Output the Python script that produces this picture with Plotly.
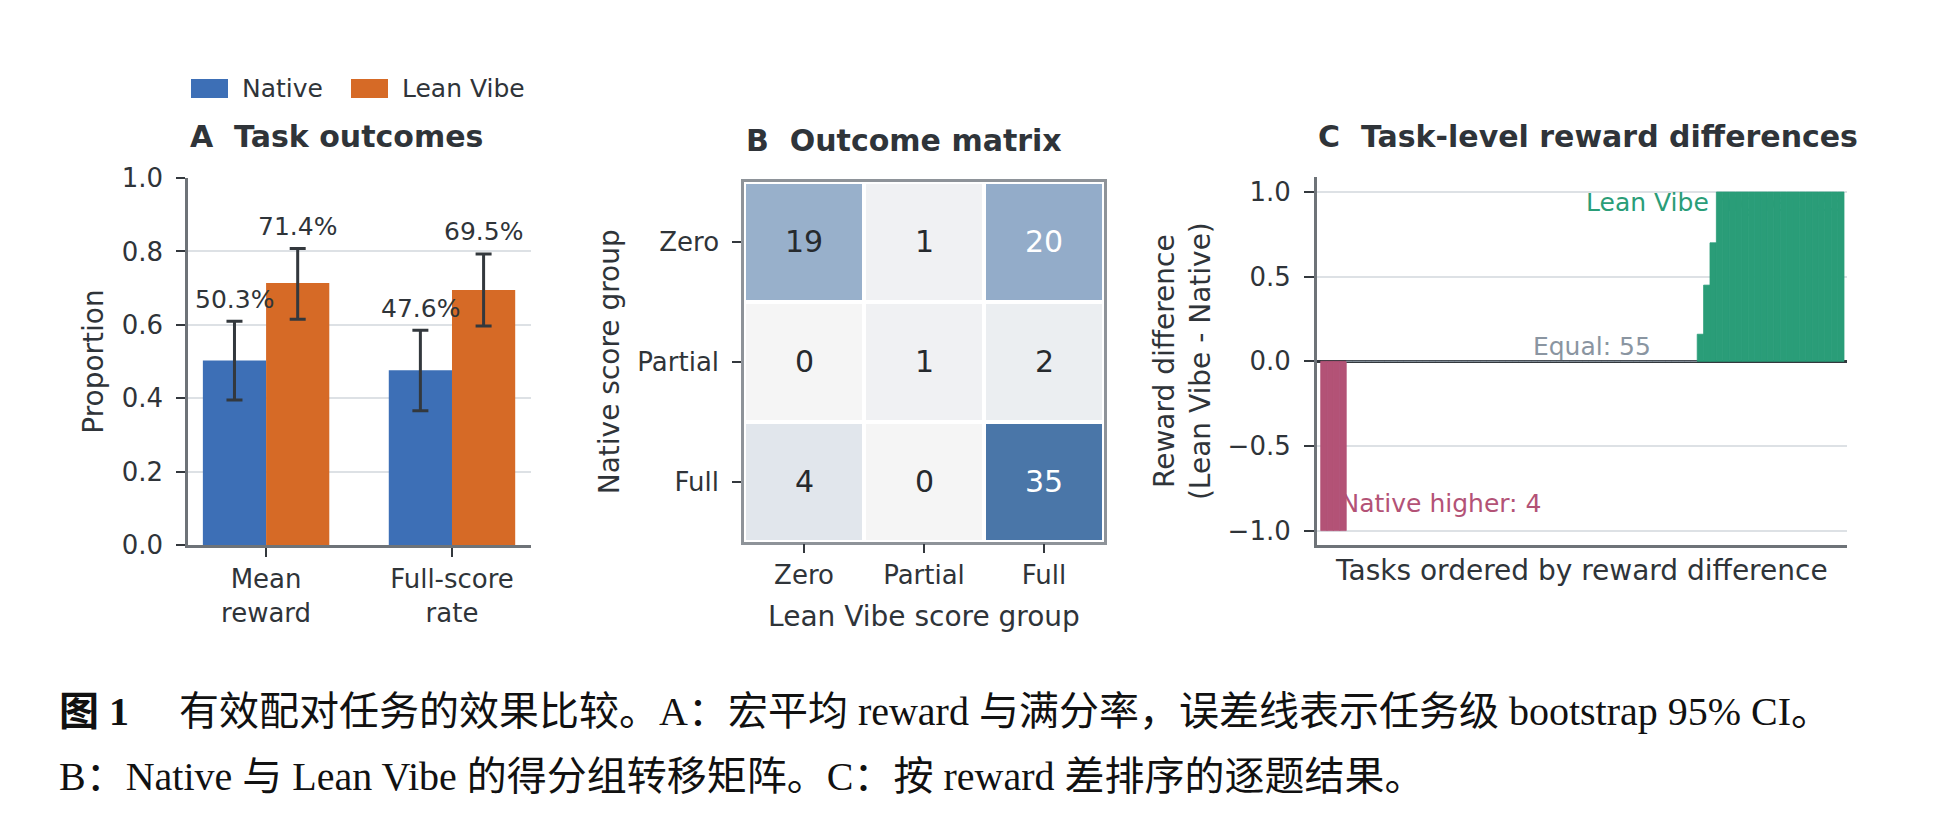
import plotly.graph_objects as go

W, H = 1938, 825
# the page body keeps an 8 px margin, so the figure is drawn 8 px in from the window edge
OX, OY = 8, 8
FW, FH = W - 2 * OX, H - 2 * OY

# ---------------- data ----------------
# Panel A: task outcomes
metrics = ["Mean<br>reward", "Full-score<br>rate"]
native_mean = [0.503, 0.476]
native_ci_low = [0.395, 0.366]
native_ci_high = [0.610, 0.585]
lean_mean = [0.714, 0.695]
lean_ci_low = [0.615, 0.597]
lean_ci_high = [0.808, 0.793]

# Panel B: outcome matrix (rows: Native group, cols: Lean Vibe group)
score_groups = ["Zero", "Partial", "Full"]
outcome_counts = [
    [19, 1, 20],
    [0, 1, 2],
    [4, 0, 35],
]

# Panel C: per-task reward differences (Lean Vibe - Native), sorted
native_higher_diffs = [-1.0, -1.0, -1.0, -1.0]
equal_diffs = [0.0] * 55
lean_higher_diffs = [0.16, 0.45, 0.70,
                     1.0, 1.0, 1.0, 1.0, 1.0, 1.0, 1.0, 1.0, 1.0, 1.0,
                     1.0, 1.0, 1.0, 1.0, 1.0, 1.0, 1.0, 1.0, 1.0, 1.0]
reward_diffs = native_higher_diffs + equal_diffs + lean_higher_diffs
task_index = list(range(len(reward_diffs)))

caption_line1_head = "<b>图 1</b>"
caption_line1 = "有效配对任务的效果比较。A：宏平均 reward 与满分率，误差线表示任务级 bootstrap 95% CI。"
caption_line2 = "B：Native 与 Lean Vibe 的得分组转移矩阵。C：按 reward 差排序的逐题结果。"

# ---------------- style ----------------
FONT = "DejaVu Sans"
TXT = "#2F3439"
TICKC = "#33383D"
SPINE = "#6E7378"
GRID = "#DDE1E5"
NATIVE_C = "#3D6FB6"
LEAN_C = "#D66A26"
GREEN = "#2A9D78"
PINK = "#B35276"
EQUAL_C = "#8A95A1"


def px(x):
    return (x - OX) / FW


def py(y):
    return 1 - (y - OY) / FH


fig = go.Figure()

# ---- Panel A ----
fig.add_trace(go.Bar(
    x=metrics, y=native_mean, name="Native", marker=dict(color=NATIVE_C, line=dict(width=0)),
    width=0.34, offset=-0.34, xaxis="x", yaxis="y", showlegend=False,
    error_y=dict(type="data", symmetric=False,
                 array=[h - m for h, m in zip(native_ci_high, native_mean)],
                 arrayminus=[m - l for m, l in zip(native_mean, native_ci_low)],
                 color=TICKC, thickness=3, width=8),
))
fig.add_trace(go.Bar(
    x=metrics, y=lean_mean, name="Lean Vibe", marker=dict(color=LEAN_C, line=dict(width=0)),
    width=0.34, offset=0.0, xaxis="x", yaxis="y", showlegend=False,
    error_y=dict(type="data", symmetric=False,
                 array=[h - m for h, m in zip(lean_ci_high, lean_mean)],
                 arrayminus=[m - l for m, l in zip(lean_mean, lean_ci_low)],
                 color=TICKC, thickness=3, width=8),
))

annotations = []
for i in range(len(metrics)):
    annotations.append(dict(x=i - 0.17, y=native_ci_high[i], xref="x", yref="y",
                            text=f"{native_mean[i] * 100:.1f}%", showarrow=False,
                            yanchor="middle", yshift=22, font=dict(size=25, color=TXT)))
    annotations.append(dict(x=i + 0.17, y=lean_ci_high[i], xref="x", yref="y",
                            text=f"{lean_mean[i] * 100:.1f}%", showarrow=False,
                            yanchor="middle", yshift=22, font=dict(size=25, color=TXT)))

# ---- Panel B ----
zmax = max(max(r) for r in outcome_counts)
fig.add_trace(go.Heatmap(
    z=outcome_counts, x=score_groups, y=score_groups,
    colorscale=[[0, "#F5F5F5"], [1, "#4A76A8"]], zmin=0, zmax=zmax,
    showscale=False, xgap=4, ygap=4, xaxis="x2", yaxis="y2", hoverinfo="z",
))
for r, row in enumerate(outcome_counts):
    for c, v in enumerate(row):
        annotations.append(dict(x=score_groups[c], y=score_groups[r], xref="x2", yref="y2",
                                text=str(v), showarrow=False,
                                font=dict(size=30, color="white" if v > 0.55 * zmax else "#262A2E")))

# ---- Panel C ---- (labels on base axes, bars on overlaid axes so bars cover labels)
fig.add_trace(go.Scatter(
    x=[2.6], y=[-0.855], mode="text", text=[f"Native higher: {len(native_higher_diffs)}"],
    textposition="middle right", textfont=dict(size=25, color=PINK, family=FONT),
    xaxis="x3", yaxis="y3", showlegend=False, hoverinfo="skip",
))
fig.add_trace(go.Scatter(
    x=[42], y=[0.0], mode="text", text=[f"Equal: {len(equal_diffs)}"],
    textposition="top center", textfont=dict(size=25, color=EQUAL_C, family=FONT),
    xaxis="x3", yaxis="y3", showlegend=False, hoverinfo="skip",
))
fig.add_trace(go.Scatter(
    x=[81.6], y=[1.0], mode="text", text=[f"Lean Vibe higher: {len(lean_higher_diffs)}"],
    textposition="bottom left", textfont=dict(size=25, color=GREEN, family=FONT),
    xaxis="x3", yaxis="y3", showlegend=False, hoverinfo="skip",
))
bar_colors = [PINK if d < 0 else (GREEN if d > 0 else EQUAL_C) for d in reward_diffs]
fig.add_trace(go.Bar(
    x=task_index, y=reward_diffs, width=1.0,
    marker=dict(color=bar_colors, line=dict(width=0.8, color=bar_colors)),
    xaxis="x4", yaxis="y4", showlegend=False,
))

# ---- titles ----
for label, left, cy in [("A  Task outcomes", 188, 137),
                        ("B  Outcome matrix", 744, 141),
                        ("C  Task-level reward differences", 1316, 137)]:
    annotations.append(dict(x=px(left), y=py(cy), xref="paper", yref="paper", text=f"<b>{label}</b>",
                            showarrow=False, xanchor="left", yanchor="middle",
                            font=dict(size=30, color=TXT)))

# ---- legend (manual) ----
shapes = []
for name, color, x0, tx in [("Native", NATIVE_C, 191, 240), ("Lean Vibe", LEAN_C, 351, 400)]:
    shapes.append(dict(type="rect", xref="paper", yref="paper", x0=px(x0), x1=px(x0 + 37),
                       y0=py(98), y1=py(79), fillcolor=color, line=dict(width=0)))
    annotations.append(dict(x=px(tx), y=py(88.5), xref="paper", yref="paper", text=name,
                            showarrow=False, xanchor="left", yanchor="middle",
                            font=dict(size=25, color=TXT)))

# ---- caption ----
CAP_FONT = "Liberation Serif, Noto Sans CJK SC, serif"
annotations.append(dict(x=px(57), y=py(711), xref="paper", yref="paper", text=caption_line1_head,
                        showarrow=False, xanchor="left", yanchor="middle",
                        font=dict(size=40, color="#111111", family=CAP_FONT)))
annotations.append(dict(x=px(177), y=py(711), xref="paper", yref="paper", text=caption_line1,
                        showarrow=False, xanchor="left", yanchor="middle",
                        font=dict(size=40, color="#111111", family=CAP_FONT)))
annotations.append(dict(x=px(57), y=py(776), xref="paper", yref="paper", text=caption_line2,
                        showarrow=False, xanchor="left", yanchor="middle",
                        font=dict(size=40, color="#111111", family=CAP_FONT)))

tickfont = dict(size=26, color=TXT)
titlefont = dict(size=28, color=TXT)

C_XRANGE = [-1.13, 81.97]
C_YRANGE = [-1.085, 1.087]

fig.update_layout(
    template="none",
    width=FW, height=FH, margin=dict(l=0, r=0, t=0, b=0, pad=0, autoexpand=False),
    paper_bgcolor="white", plot_bgcolor="white",
    font=dict(family=FONT, color=TXT),
    barmode="overlay", showlegend=False,
    annotations=annotations, shapes=shapes,
    xaxis=dict(domain=[px(188), px(531)], anchor="y", range=[-0.42, 1.425], automargin=False,
               showline=True, linecolor=SPINE, linewidth=2.5, ticks="outside", ticklen=9,
               tickwidth=2, tickcolor=TICKC, tickfont=tickfont, showgrid=False, zeroline=False,
               ticklabelstandoff=0),
    yaxis=dict(domain=[py(545), py(178)], anchor="x", range=[0, 1.0], automargin=False,
               tickvals=[0, 0.2, 0.4, 0.6, 0.8, 1.0], tickformat=".1f",
               showline=True, linecolor=SPINE, linewidth=2.5, ticks="outside", ticklen=9,
               tickwidth=2, tickcolor=TICKC, tickfont=tickfont,
               showgrid=True, gridcolor=GRID, gridwidth=1.5, zeroline=False,
               title=dict(text="Proportion", font=titlefont, standoff=10),
               ticklabelstandoff=8),
    xaxis2=dict(domain=[px(744), px(1104)], anchor="y2", automargin=False,
                showline=True, mirror=True, linecolor="#8E9399", linewidth=2.5,
                ticks="outside", ticklen=9, tickwidth=2, tickcolor=TICKC, tickfont=tickfont,
                showgrid=False, zeroline=False, ticklabelstandoff=0,
                title=dict(text="Lean Vibe score group", font=titlefont, standoff=17)),
    yaxis2=dict(domain=[py(541.5), py(182)], anchor="x2", autorange="reversed", automargin=False,
                showline=True, mirror=True, linecolor="#8E9399", linewidth=2.5,
                ticks="outside", ticklen=9, tickwidth=2, tickcolor=TICKC, tickfont=tickfont,
                showgrid=False, zeroline=False, ticklabelstandoff=8,
                title=dict(text="Native score group", font=titlefont, standoff=10)),
    xaxis3=dict(domain=[px(1316.7), px(1847)], anchor="y3", range=C_XRANGE, automargin=False,
                showline=True, linecolor=SPINE, linewidth=2.5, ticks="", showticklabels=False,
                showgrid=False, zeroline=False,
                title=dict(text="Tasks ordered by reward difference", font=titlefont, standoff=14)),
    yaxis3=dict(domain=[py(545), py(177.3)], anchor="x3", range=C_YRANGE, automargin=False,
                tickvals=[-1.0, -0.5, 0.0, 0.5, 1.0], tickformat=".1f",
                showline=True, linecolor=SPINE, linewidth=2.5, ticks="outside", ticklen=10,
                tickwidth=2, tickcolor=TICKC, tickfont=tickfont,
                showgrid=True, gridcolor=GRID, gridwidth=1.5,
                zeroline=True, zerolinecolor=TICKC, zerolinewidth=3,
                title=dict(text="Reward difference<br>(Lean Vibe - Native)", font=titlefont, standoff=9),
                ticklabelstandoff=8),
    xaxis4=dict(overlaying="x3", anchor="y4", range=C_XRANGE, visible=False, automargin=False),
    yaxis4=dict(overlaying="y3", anchor="x4", range=C_YRANGE, visible=False, automargin=False),
)

fig.write_html("out.html")
